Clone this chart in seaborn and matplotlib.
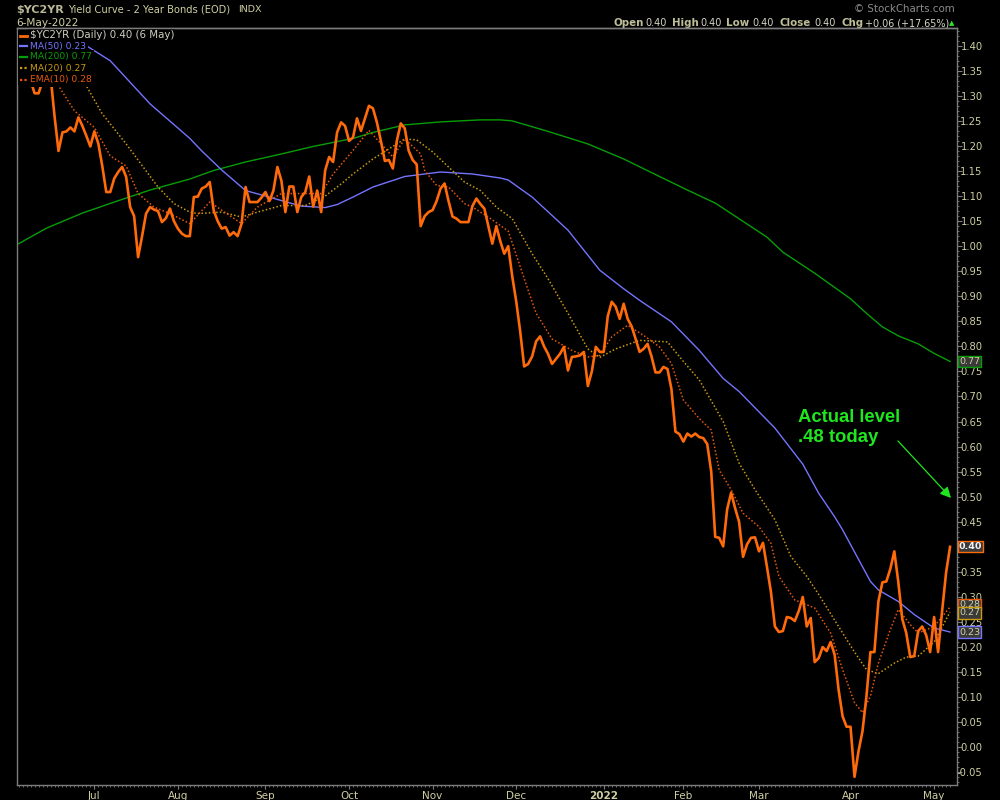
import pandas as pd
import matplotlib
matplotlib.use("Agg")
import matplotlib.pyplot as plt
import seaborn as sns
from matplotlib.lines import Line2D
from matplotlib.patches import Rectangle

# $YC2YR daily closes, one per trading day, 4 Jun 2021 .. 6 May 2022
yc2yr = [
    1.37, 1.36, 1.35, 1.33, 1.305, 1.305, 1.33, 1.35, 1.34, 1.26,
    1.19, 1.227, 1.229, 1.237, 1.229, 1.257, 1.24, 1.22, 1.199, 1.229,
    1.205, 1.16, 1.108, 1.108, 1.135, 1.148, 1.158, 1.138, 1.078, 1.06,
    0.978, 1.02, 1.065, 1.078, 1.073, 1.07, 1.048, 1.056, 1.075, 1.05,
    1.035, 1.025, 1.02, 1.02, 1.098, 1.099, 1.115, 1.119, 1.128, 1.071,
    1.05, 1.035, 1.038, 1.021, 1.028, 1.02, 1.045, 1.118, 1.088, 1.088,
    1.088, 1.097, 1.108, 1.09, 1.111, 1.158, 1.131, 1.068, 1.119, 1.119,
    1.068, 1.098, 1.108, 1.139, 1.079, 1.111, 1.068, 1.151, 1.178, 1.168,
    1.227, 1.247, 1.24, 1.21, 1.217, 1.255, 1.23, 1.255, 1.28, 1.275,
    1.247, 1.21, 1.17, 1.172, 1.155, 1.21, 1.245, 1.235, 1.19, 1.172,
    1.163, 1.04, 1.06, 1.068, 1.072, 1.09, 1.115, 1.125, 1.09, 1.059,
    1.055, 1.048, 1.048, 1.048, 1.08, 1.095, 1.084, 1.075, 1.04, 1.005,
    1.04, 1.01, 0.985, 1.0, 0.94, 0.89, 0.83, 0.76, 0.765, 0.78,
    0.81, 0.82, 0.80, 0.785, 0.765, 0.775, 0.785, 0.799, 0.752, 0.779,
    0.78, 0.782, 0.789, 0.721, 0.75, 0.799, 0.789, 0.789, 0.86, 0.889,
    0.879, 0.855, 0.885, 0.855, 0.84, 0.815, 0.789, 0.795, 0.805, 0.78,
    0.748, 0.748, 0.759, 0.755, 0.715, 0.63, 0.625, 0.61, 0.626, 0.62,
    0.626, 0.619, 0.617, 0.605, 0.55, 0.42, 0.418, 0.401, 0.475, 0.508,
    0.477, 0.45, 0.38, 0.405, 0.418, 0.419, 0.391, 0.408, 0.36, 0.31,
    0.241, 0.23, 0.232, 0.26, 0.258, 0.252, 0.272, 0.30, 0.241, 0.258,
    0.17, 0.178, 0.20, 0.192, 0.21, 0.185, 0.115, 0.062, 0.041, 0.041,
    -0.059, -0.008, 0.032, 0.102, 0.19, 0.19, 0.291, 0.329, 0.331, 0.356,
    0.391, 0.33, 0.256, 0.228, 0.18, 0.182, 0.232, 0.241, 0.224, 0.19,
    0.26, 0.19, 0.271, 0.348, 0.40,
]
last_day = "2022-05-06"
holidays = ["2021-07-05", "2021-09-06", "2021-11-25", "2021-12-24",
            "2022-01-17", "2022-02-21"]

# overlays, read at a handful of trading days (day number inside the window)
ma200_day = [0, 7, 16, 24, 33, 43, 49, 57, 66, 74, 84, 89, 97, 106, 116, 121, 124,
             133, 143, 152, 161, 168, 175, 184, 188, 192, 200, 209, 213, 217, 221, 226, 230, 234]
ma200_val = [1.005, 1.036, 1.066, 1.088, 1.112, 1.134, 1.151, 1.168, 1.184, 1.199, 1.215,
             1.227, 1.242, 1.248, 1.252, 1.252, 1.250, 1.229, 1.204, 1.174, 1.139, 1.112,
             1.086, 1.039, 1.018, 0.988, 0.946, 0.895, 0.866, 0.839, 0.821, 0.805, 0.786, 0.77]

ma50_day = [10, 17, 23, 33, 43, 46, 51, 57, 62, 66, 71, 77, 80, 84, 89, 97, 106, 114, 121,
            123, 129, 138, 146, 152, 156, 164, 171, 177, 181, 190, 197, 201, 205, 207, 214,
            216, 221, 225, 230, 234]
ma50_val = [1.44, 1.40, 1.37, 1.284, 1.215, 1.19, 1.152, 1.111, 1.10, 1.091, 1.08, 1.077,
            1.083, 1.098, 1.118, 1.139, 1.148, 1.144, 1.136, 1.132, 1.098, 1.032, 0.952,
            0.915, 0.892, 0.849, 0.792, 0.736, 0.71, 0.637, 0.565, 0.507, 0.46, 0.434,
            0.331, 0.314, 0.291, 0.265, 0.238, 0.23]

ma20_day = [0, 8, 17, 21, 27, 35, 39, 43, 45, 51, 56, 60, 66, 72, 77, 81, 84, 89, 97, 100,
            104, 108, 112, 116, 120, 124, 129, 133, 138, 143, 146, 150, 156, 163, 167, 171,
            177, 181, 185, 190, 194, 198, 201, 206, 210, 213, 216, 220, 223, 226, 230, 234]
ma20_val = [1.45, 1.40, 1.32, 1.264, 1.204, 1.118, 1.085, 1.068, 1.065, 1.068, 1.058, 1.068,
            1.081, 1.081, 1.10, 1.124, 1.144, 1.174, 1.214, 1.212, 1.188, 1.158, 1.128, 1.111,
            1.078, 1.055, 0.985, 0.935, 0.866, 0.795, 0.778, 0.795, 0.812, 0.809, 0.77, 0.733,
            0.65, 0.567, 0.514, 0.454, 0.381, 0.341, 0.305, 0.241, 0.19, 0.155, 0.147, 0.168,
            0.18, 0.182, 0.21, 0.27]

ema10_day = [0, 6, 10, 14, 19, 23, 27, 30, 34, 38, 43, 48, 56, 60, 66, 71, 76, 79, 84, 88,
             94, 97, 101, 102, 105, 108, 112, 114, 118, 123, 128, 130, 134, 139, 143, 146,
             149, 153, 157, 161, 164, 167, 171, 174, 176, 179, 182, 186, 189, 191, 195, 200,
             204, 207, 210, 212, 214, 216, 219, 221, 224, 226, 230, 234]
ema10_val = [1.40, 1.35, 1.32, 1.27, 1.237, 1.18, 1.16, 1.105, 1.078, 1.065, 1.045, 1.088,
             1.045, 1.078, 1.105, 1.105, 1.105, 1.144, 1.191, 1.231, 1.178, 1.214, 1.184,
             1.151, 1.121, 1.118, 1.085, 1.078, 1.058, 1.03, 0.912, 0.866, 0.815, 0.792,
             0.779, 0.782, 0.819, 0.842, 0.822, 0.799, 0.766, 0.693, 0.656, 0.633, 0.553,
             0.514, 0.467, 0.44, 0.407, 0.341, 0.294, 0.278, 0.228, 0.155, 0.089, 0.069,
             0.102, 0.168, 0.235, 0.275, 0.245, 0.228, 0.241, 0.28]

legend_labels = ["$YC2YR (Daily) 0.40 (6 May)", "MA(50) 0.23", "MA(200) 0.77",
                 "MA(20) 0.27", "EMA(10) 0.28"]
ohlc = [("Open", "0.40"), ("High", "0.40"), ("Low", "0.40"), ("Close", "0.40"),
        ("Chg", "+0.06 (+17.65%)")]
tag_values = [0.40, 0.77, 0.285, 0.268, 0.23]
tag_texts = ["0.40", "0.77", "0.28", "0.27", "0.23"]

C_PRICE = "#ff6a0a"
C_MA50 = "#7474ff"
C_MA200 = "#079d07"
C_MA20 = "#c99a10"
C_EMA10 = "#e8580a"
C_TXT = "#cfcfa2"
C_GRID = "#7c7c7c"

dates = pd.bdate_range(end=last_day, periods=len(yc2yr), freq="C", holidays=holidays)
df = pd.DataFrame({"day": range(len(yc2yr)), "close": yc2yr, "date": dates})

plt.rcParams["font.family"] = ["DejaVu Sans"]
fig = plt.figure(figsize=(10, 8), dpi=100, facecolor="black")
ax = fig.add_axes([0.0165, 0.0191, 0.9405, 0.9455])
ax.set_facecolor("black")


def fx(px):
    return px / 1000


def fy(py):
    return 1 - py / 800


dots = (0, (1, 1.4))
sns.lineplot(x=ma200_day, y=ma200_val, ax=ax, color=C_MA200, linewidth=1.0)
sns.lineplot(x=ma50_day, y=ma50_val, ax=ax, color=C_MA50, linewidth=1.0)
sns.lineplot(x=ma20_day, y=ma20_val, ax=ax, color=C_MA20, linewidth=1.1, linestyle=dots)
sns.lineplot(x=ema10_day, y=ema10_val, ax=ax, color=C_EMA10, linewidth=1.1, linestyle=dots)
sns.lineplot(data=df, x="day", y="close", ax=ax, color=C_PRICE, linewidth=1.9)

ax.set_xlim(-0.55, 235.75)
ax.set_ylim(-0.0747, 1.4347)
ax.set_xlabel("")
ax.set_ylabel("")
for s in ax.spines.values():
    s.set_color(C_GRID)
    s.set_linewidth(1.0)

# x axis: month starts
month_start = df.index[df["date"].dt.month != df["date"].dt.month.shift()][1:]
labels = []
for i in month_start:
    d = df.loc[i, "date"]
    labels.append("2022" if d.month == 1 else d.strftime("%b"))
ax.set_xticks(list(month_start))
ax.set_xticklabels(labels)
for t in ax.get_xticklabels():
    if t.get_text() == "2022":
        t.set_fontweight("bold")
ax.set_xticks(range(len(yc2yr)), minor=True)
ax.tick_params(axis="x", which="major", colors=C_GRID, labelcolor=C_TXT, length=3,
               labelsize=7.5, pad=1.5)
ax.tick_params(axis="x", which="minor", colors=C_GRID, length=1.5, width=0.6)

# y axis on the right
yt = [round(-0.05 + 0.05 * k, 2) for k in range(30)]
ax.yaxis.tick_right()
ax.set_yticks(yt)
ax.set_yticklabels([f"{v:.2f}" for v in yt])
ax.set_yticks([round(-0.07 + 0.01 * k, 2) for k in range(151)], minor=True)
ax.tick_params(axis="y", which="major", colors=C_GRID, labelcolor=C_TXT, length=3.5,
               labelsize=7.2, pad=15)
ax.tick_params(axis="y", which="minor", colors=C_GRID, length=1.5, width=0.6)
for t in ax.get_yticklabels():
    t.set_ha("right")
ax.tick_params(left=False, labelleft=False)

# value tags at the right edge (0.27 sits over 0.28, as on the original)
tag_edges = [C_PRICE, C_MA200, C_EMA10, C_MA20, C_MA50]
tag_colors = ["#f4f4f4", C_TXT, C_TXT, C_TXT, C_TXT]
for k, (v, txt, ec, tc) in enumerate(zip(tag_values, tag_texts, tag_edges, tag_colors)):
    ax.text(1.002, v, txt, transform=ax.get_yaxis_transform(), ha="left", va="center",
            fontsize=6.8, color=tc, fontweight="bold" if txt == "0.40" else "normal",
            clip_on=False, zorder=10 + k,
            bbox=dict(boxstyle="square,pad=0.12", fc="#3a3a3a", ec=ec, lw=1.0))

# header
fig.text(fx(16), fy(10), "$YC2YR", color="#b8b896", fontsize=8, fontweight="bold", va="center")
fig.text(fx(68), fy(10), "Yield Curve - 2 Year Bonds (EOD)", color=C_TXT, fontsize=7.1,
         va="center")
fig.text(fx(238), fy(10), "INDX", color=C_TXT, fontsize=6.8, va="center")
fig.text(fx(16), fy(22.5), "6-May-2022", color=C_TXT, fontsize=7.6, va="center")
fig.text(fx(955), fy(9), "\u00a9 StockCharts.com", color="#8c8c8c", fontsize=7.4,
         va="center", ha="right")
xs = [613, 672, 726, 780, 842]
offs = [32, 28, 26, 34, 23]
for (lab, val), x0, off in zip(ohlc, xs, offs):
    fig.text(fx(x0), fy(23), lab, color="#bebe98", fontsize=7.4, fontweight="bold",
             va="center")
    fig.text(fx(x0 + off), fy(23), val, color="#d6d6c6", fontsize=6.9, va="center")
fig.text(fx(952), fy(23), "\u25b2", color="#2ee62e", fontsize=5, va="center", ha="center")

# legend block, top-left inside the chart
fig.add_artist(Rectangle((fx(17.5), fy(85)), fx(12), fy(29.5) - fy(85), transform=fig.transFigure,
                         fc="black", ec="none", zorder=4))
leg_y = [35.5, 46, 57, 68, 79.5]
leg_size = [7.4, 6.6, 6.6, 6.6, 6.6]
leg_pad = [0.12, 0.3, 0.3, 0.3, 0.3]
leg_colors = ["#cfcfbf", C_MA50, C_MA200, C_MA20, C_EMA10]
leg_ls = ["-", "-", "-", (0, (1, 1)), (0, (1, 1))]
leg_lw = [2.0, 1.6, 1.6, 1.6, 1.6]
handle_colors = [C_PRICE, C_MA50, C_MA200, C_MA20, C_EMA10]
for lab, y, sz, pd_, c, hc, ls, lw in zip(legend_labels, leg_y, leg_size, leg_pad, leg_colors,
                                          handle_colors, leg_ls, leg_lw):
    fig.text(fx(29.5), fy(y), lab, color=c, fontsize=sz, va="center", zorder=5,
             bbox=dict(boxstyle=f"square,pad={pd_}", fc="black", ec="none"))
    fig.add_artist(Line2D([fx(19.5), fx(27)], [fy(y), fy(y)], color=hc, lw=lw, ls=ls,
                          zorder=6))
# keep the top frame line visible above the legend masks
fig.add_artist(Line2D([fx(16.5), fx(957)], [fy(28.3), fy(28.3)], color=C_GRID, lw=1.0,
                      zorder=7))

# annotation
note_c = "#1fe61f"
fig.text(fx(798), fy(421.5), "Actual level", color=note_c, fontsize=13.3, fontweight="bold",
         family=["Liberation Sans", "DejaVu Sans"], va="baseline")
fig.text(fx(798), fy(442), ".48 today", color=note_c, fontsize=13.3, fontweight="bold",
         family=["Liberation Sans", "DejaVu Sans"], va="baseline")
fig.add_artist(plt.Annotation("", xy=(951, 800 - 498), xytext=(898, 800 - 441),
                              xycoords="figure pixels", textcoords="figure pixels",
                              arrowprops=dict(arrowstyle="-|>", color=note_c, lw=0.9,
                                              mutation_scale=16, shrinkA=0, shrinkB=0)))

fig.savefig("out.png", dpi=100, facecolor="black")
